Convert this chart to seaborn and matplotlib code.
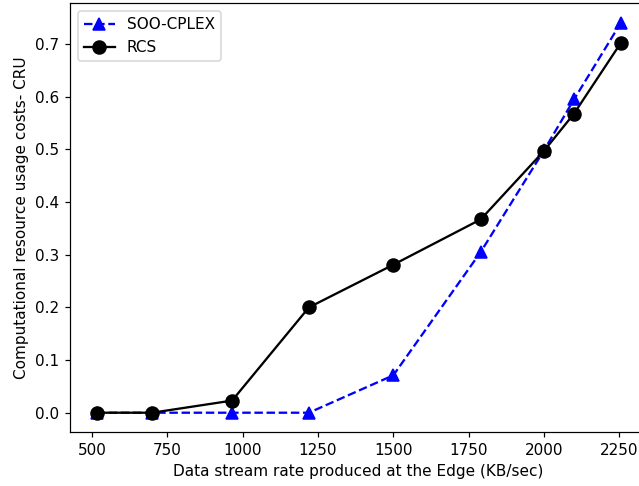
import matplotlib
matplotlib.use('Agg')
import matplotlib.pyplot as plt
import seaborn as sns
import pandas as pd

# Data
rate = [515, 700, 965, 1220, 1500, 1790, 2000, 2100, 2255]
soo_cplex = [0.0, 0.0, 0.0, 0.0, 0.071, 0.305, 0.498, 0.595, 0.740]
rcs = [0.0, 0.0, 0.023, 0.200, 0.281, 0.367, 0.497, 0.568, 0.702]

df = pd.DataFrame({'rate': rate, 'SOO-CPLEX': soo_cplex, 'RCS': rcs})

fig, ax = plt.subplots(figsize=(639 / 110, 486 / 110), dpi=110)

# SOO-CPLEX: blue dashed with triangles
sns.lineplot(x='rate', y='SOO-CPLEX', data=df, ax=ax, color='blue', linestyle='--',
             marker='^', markersize=8.5, markeredgecolor='blue', markeredgewidth=1,
             label='SOO-CPLEX')

# RCS: black solid with circles
sns.lineplot(x='rate', y='RCS', data=df, ax=ax, color='black', linestyle='-',
             marker='o', markersize=8.5, markeredgecolor='black', markeredgewidth=1,
             label='RCS')

ax.set_xticks([500, 750, 1000, 1250, 1500, 1750, 2000, 2250])
ax.set_xlabel('Data stream rate produced at the Edge (KB/sec)')
ax.set_ylabel('Computational resource usage costs- CRU')
ax.legend(loc='upper left')

# the reference is cropped on the right, so the axes run past the figure edge
plt.subplots_adjust(left=0.110, right=1.0125, top=0.9928, bottom=0.1107)
plt.savefig('out.png', dpi=110)
